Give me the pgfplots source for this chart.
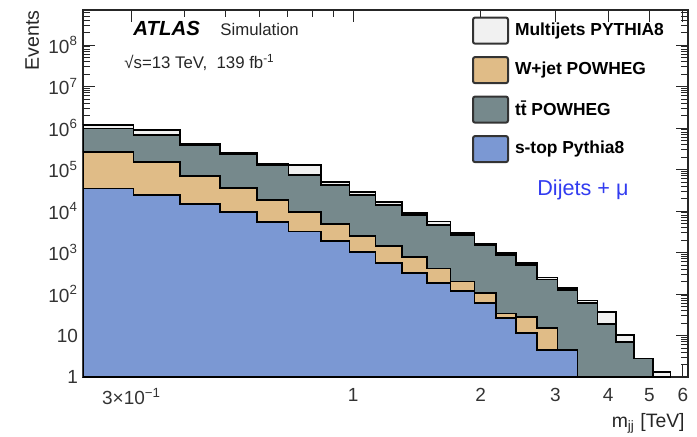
\documentclass[border=0pt]{standalone}
\usepackage{fontspec}
\setmainfont{Liberation Sans}
\usepackage{pgfplots}
\usepackage{pgfplotstable}
\pgfplotsset{compat=1.18}
\definecolor{mjcol}{RGB}{241,241,241}
\definecolor{wcol}{RGB}{224,188,135}
\definecolor{ttcol}{RGB}{118,137,140}
\definecolor{stcol}{RGB}{123,152,211}
\definecolor{dijcol}{RGB}{50,60,240}

% stacked (cumulative) histograms: left bin edge, content; last row = right edge
\pgfplotstableread{
x y
0.2304 1.18e6
0.303 8.9e5
0.391 4.1e5
0.486 2.45e5
0.593 1.35e5
0.704 1.28e5
0.840 4.9e4
0.980 2.9e4
1.129 1.67e4
1.306 9.1e3
1.496 5.6e3
1.698 2.9e3
1.935 1.65e3
2.17 960
2.419 550
2.72 250
3.035 140
3.384 70
3.774 37
4.17 10.5
4.607 2.8
5.09 1.3
5.61 1.3
}\tabtotal
\pgfplotstableread{
x y
0.2304 9.8e5
0.303 6.8e5
0.391 3.9e5
0.486 2.3e5
0.593 1.25e5
0.704 7.4e4
0.840 4.2e4
0.980 2.4e4
1.129 1.39e4
1.306 8.0e3
1.496 4.7e3
1.698 2.6e3
1.935 1.5e3
2.17 870
2.419 500
2.72 225
3.035 125
3.384 62
3.774 19
4.17 7.1
4.607 2.8
5.09 2.8
}\tabtt
\pgfplotstableread{
x y
0.2304 2.6e5
0.303 1.49e5
0.391 6.9e4
0.486 3.6e4
0.593 1.85e4
0.704 9.6e3
0.840 4.9e3
0.980 2.5e3
1.129 1.44e3
1.306 790
1.496 414
1.698 200
1.935 105
2.17 34
2.419 28
2.72 14.9
3.035 4.5
3.384 4.5
}\tabw
\pgfplotstableread{
x y
0.2304 3.5e4
0.303 2.4e4
0.391 1.5e4
0.486 9.6e3
0.593 5.5e3
0.704 3.2e3
0.840 1.9e3
0.980 1.05e3
1.129 550
1.306 315
1.496 185
1.698 120
1.935 60
2.17 27
2.419 11.3
2.72 4.5
3.035 4.5
3.384 4.5
}\tabst

\begin{document}
\begin{tikzpicture}
\begin{axis}[name=ax,
  scale only axis, width=302.5pt, height=183.5pt,
  xmode=log, ymode=log,
  xmin=0.2304, xmax=6.17, ymin=1, ymax=7e8,
  axis line style={line width=0.6pt, black!85},
  every tick/.style={black!85, line width=0.5pt},
  tick align=inside,
  major tick length=6pt, minor tick length=3.5pt,
  xtick={0.3,1,2,3,4,5,6},
  xticklabels={3×10\textsuperscript{−1},1,2,3,4,5,6},
  minor xtick={0.4,0.5,0.6,0.7,0.8,0.9},
  ytick={1,10,100,1000,10000,100000,1000000,10000000,100000000},
  yticklabels={1,10,10\textsuperscript{2},10\textsuperscript{3},10\textsuperscript{4},10\textsuperscript{5},10\textsuperscript{6},10\textsuperscript{7},10\textsuperscript{8}},
  minor ytick={2,3,4,5,6,7,8,9,20,30,40,50,60,70,80,90,200,300,400,500,600,700,800,900,
    2000,3000,4000,5000,6000,7000,8000,9000,20000,30000,40000,50000,60000,70000,80000,90000,
    2e5,3e5,4e5,5e5,6e5,7e5,8e5,9e5,2e6,3e6,4e6,5e6,6e6,7e6,8e6,9e6,
    2e7,3e7,4e7,5e7,6e7,7e7,8e7,9e7,2e8,3e8,4e8,5e8,6e8},
  ticklabel style={font=\fontsize{9.5}{11}\selectfont, black!80},
  xticklabel style={yshift=-2pt},
  yticklabel style={xshift=1pt},
  legend cell align=left,
  legend image code/.code={\draw[#1, line width=1pt, rounded corners=1pt] (0.5pt,-6.5pt) rectangle (18pt,6.5pt);},
  legend style={at={(0.643,0.982)}, anchor=north west, draw=none, fill=none,
    inner sep=0pt, outer sep=0pt, row sep=5.75pt, column sep=3pt,
    font=\bfseries\fontsize{8.7}{10}\selectfont,
    nodes={inner sep=0pt}},
]
\addplot[const plot, fill=mjcol, draw=black, line width=0.9pt, forget plot] table[x=x,y=y] {\tabtotal} \closedcycle;
\addplot[const plot, fill=ttcol, draw=black, line width=0.9pt, forget plot] table[x=x,y=y] {\tabtt} \closedcycle;
\addplot[const plot, fill=wcol, draw=black, line width=0.9pt, forget plot] table[x=x,y=y] {\tabw} \closedcycle;
\addplot[const plot, fill=stcol, draw=black, line width=0.9pt, forget plot] table[x=x,y=y] {\tabst} \closedcycle;

\addlegendimage{fill=mjcol, draw=black!80}
\addlegendentry{Multijets PYTHIA8}
\addlegendimage{fill=wcol, draw=black!80}
\addlegendentry{W+jet POWHEG}
\addlegendimage{fill=ttcol, draw=black!80}
\addlegendentry{t\={t} POWHEG}
\addlegendimage{fill=stcol, draw=black!80}
\addlegendentry{s-top Pythia8}
\end{axis}

\node[anchor=base west, inner sep=0pt, font=\bfseries\itshape\fontsize{10.2}{12}\selectfont] at ([xshift=25pt,yshift=-12.5pt]ax.north west) {ATLAS};
\node[anchor=base west, inner sep=0pt, font=\fontsize{8.4}{10}\selectfont, black!85] at ([xshift=68.5pt,yshift=-12.5pt]ax.north west) {Simulation};
\node[anchor=base west, inner sep=0pt, font=\fontsize{8.4}{10}\selectfont, black!85] at ([xshift=20.5pt,yshift=-29pt]ax.north west) {√s=13 TeV,\ \ 139 fb\textsuperscript{-1}};
\node[anchor=base west, inner sep=0pt, font=\fontsize{10.8}{12}\selectfont, text=dijcol] at ([xshift=227pt,yshift=-92.5pt]ax.north west) {Dijets + μ};
\node[rotate=90, anchor=north east, inner sep=0pt, font=\fontsize{9.8}{12}\selectfont, black!85] at ([xshift=-29pt]ax.north west) {Events};
\node[anchor=base east, inner sep=0pt, font=\fontsize{9.7}{12}\selectfont, black!85] at ([xshift=-1.5pt,yshift=-25pt]ax.south east) {m\textsubscript{jj} [TeV]};

\pgfresetboundingbox
\path[use as bounding box] ([xshift=-41.5pt,yshift=-29.5pt]ax.south west) rectangle ([xshift=4.5pt,yshift=5pt]ax.north east);
\end{tikzpicture}
\end{document}
